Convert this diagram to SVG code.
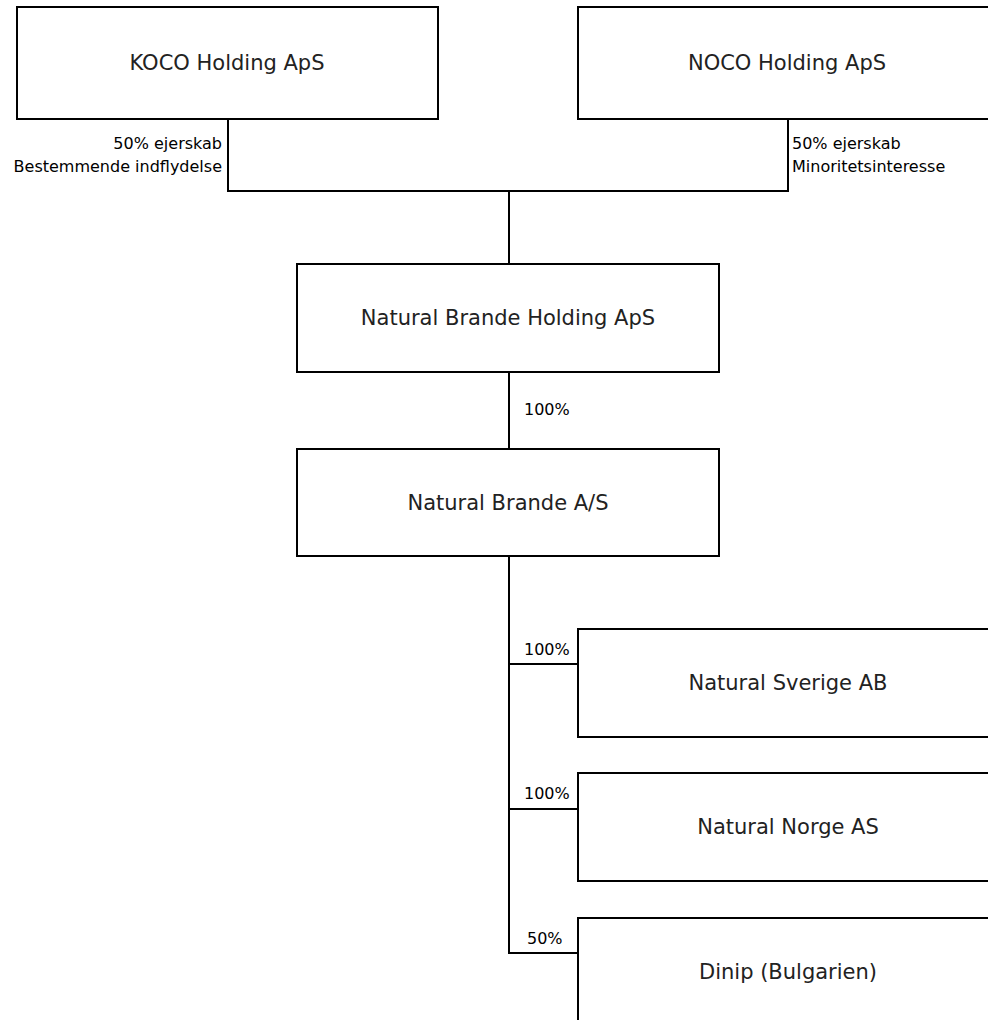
<svg xmlns="http://www.w3.org/2000/svg" width="988" height="1020" viewBox="0 0 988 1020">
<style>
.box{fill:#fff;stroke:#000;stroke-width:2}
.ln{fill:none;stroke:#000;stroke-width:2}
.t{font-family:"DejaVu Sans",Verdana,sans-serif;font-size:21px;fill:#222;text-anchor:middle}
.s{font-family:"DejaVu Sans",Verdana,sans-serif;font-size:16px;fill:#000}
.r{text-anchor:end}
</style>
<rect width="988" height="1020" fill="#fff"/>
<g id="connectors">
<path class="ln" d="M228 119V191H788V119"/>
<path class="ln" d="M509 191V264"/>
<path class="ln" d="M509 372V449"/>
<path class="ln" d="M509 556V953H578"/>
<path class="ln" d="M509 664H578"/>
<path class="ln" d="M509 809H578"/>
<text class="s r" x="222" y="149">50% ejerskab</text>
<text class="s r" x="222" y="172">Bestemmende indflydelse</text>
<text class="s" x="792" y="149">50% ejerskab</text>
<text class="s" x="792" y="172">Minoritetsinteresse</text>
<text class="s" x="524" y="415">100%</text>
<text class="s" x="524" y="655">100%</text>
<text class="s" x="524" y="799">100%</text>
<text class="s" x="527" y="944">50%</text>
</g>
<g id="koco"><rect class="box" x="17" y="7" width="421" height="112"/><text class="t" x="227" y="70">KOCO Holding ApS</text></g>
<g id="noco"><rect class="box" x="578" y="7" width="421" height="112"/><text class="t" x="787" y="70">NOCO Holding ApS</text></g>
<g id="nbholding"><rect class="box" x="297" y="264" width="422" height="108"/><text class="t" x="508" y="325">Natural Brande Holding ApS</text></g>
<g id="nbas"><rect class="box" x="297" y="449" width="422" height="107"/><text class="t" x="508" y="510">Natural Brande A/S</text></g>
<g id="sverige"><rect class="box" x="578" y="629" width="421" height="108"/><text class="t" x="788" y="690">Natural Sverige AB</text></g>
<g id="norge"><rect class="box" x="578" y="773" width="421" height="108"/><text class="t" x="788" y="834">Natural Norge AS</text></g>
<g id="dinip"><rect class="box" x="578" y="918" width="421" height="108"/><text class="t" x="788" y="979">Dinip (Bulgarien)</text></g>
</svg>
